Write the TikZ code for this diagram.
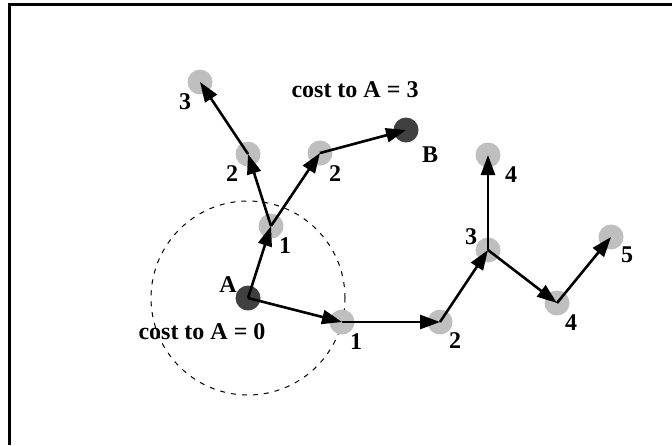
\documentclass[tikz,border=0pt]{standalone}
\usepackage{fontspec}
\setmainfont{Liberation Serif}
\usetikzlibrary{arrows.meta}

\tikzset{
  site/.style={circle, fill=black!25, minimum size=12.5pt, inner sep=0pt},
  goal/.style={circle, fill=black!75, minimum size=12.5pt, inner sep=0pt},
  hop/.style={-{Triangle[length=10pt,width=7pt]}, line width=1.3pt},
  lbl/.style={font=\fontsize{12}{14}\selectfont\bfseries, inner sep=0pt}
}

\begin{document}
\begin{tikzpicture}[x=0.5pt,y=-0.5pt]
    \useasboundingbox (0,0) rectangle (672,445);
    % frame (only top and left edges)
    \draw[line width=1.5pt] (9.5,445) -- (9.5,4.5) -- (672,4.5);

	% reach of A
	\draw[dashed, line width=0.5pt, dash pattern=on 2.5pt off 3pt] (248,298) circle (48.5pt);

	% sites
	\node[goal] (A) at (248,298) {};
	\node[goal] (B) at (406,130) {};
	\node[site] (s1a) at (271,226) {};
	\node[site] (s1b) at (342,322) {};
	\node[site] (s2a) at (248,154) {};
	\node[site] (s2b) at (320,153) {};
	\node[site] (s3a) at (200,82) {};
	\node[site] (s2c) at (440,322) {};
	\node[site] (s3c) at (488,250) {};
	\node[site] (s4a) at (488,155) {};
	\node[site] (s4b) at (557,303) {};
	\node[site] (s5) at (611,237) {};

	% hops
	\draw[hop] (A.center) -- (s1a.center);
	\draw[hop] (A.center) -- (s1b.center);
	\draw[hop] (s1a.center) -- (s2a.center);
	\draw[hop] (s1a.center) -- (s2b.center);
	\draw[hop] (s2a.center) -- (s3a.center);
	\draw[hop] (s2b.center) -- (B.center);
	\draw[hop] (s1b.center) -- (s2c.center);
	\draw[hop] (s2c.center) -- (s3c.center);
	\draw[hop] (s3c.center) -- (s4a.center);
	\draw[hop] (s3c.center) -- (s4b.center);
	\draw[hop] (s4b.center) -- (s5.center);

	% labels
	\node[lbl] (lA) at (228,285) {A};
	\node[lbl] (lB) at (430,155) {B};
	\node[lbl] (l1a) at (285,246) {1};
	\node[lbl] (l1b) at (356,342) {1};
	\node[lbl] (l2a) at (232,174) {2};
	\node[lbl] (l2b) at (335,174) {2};
	\node[lbl] (l3a) at (185,102) {3};
	\node[lbl] (l2c) at (455,341) {2};
	\node[lbl] (l3c) at (471,237) {3};
	\node[lbl] (l4a) at (511,175) {4};
	\node[lbl] (l4b) at (571,323) {4};
	\node[lbl] (l5) at (627,255) {5};
	\node[lbl] (c3) at (355,90) {cost to A = 3};
	\node[lbl] (c0) at (202,332) {cost to A = 0};
\end{tikzpicture}
\end{document}
